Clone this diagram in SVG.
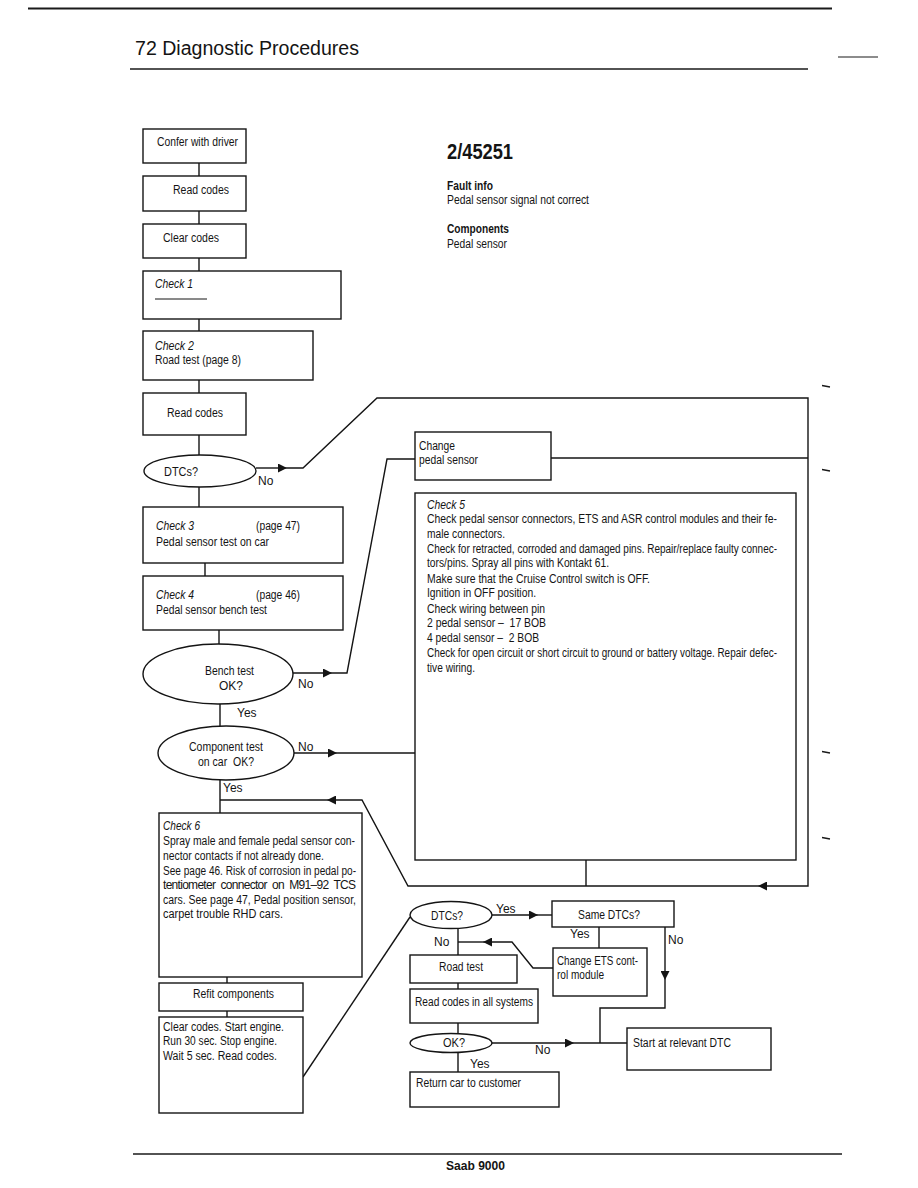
<svg xmlns="http://www.w3.org/2000/svg" width="918" height="1188" viewBox="0 0 918 1188">
<style>
.b{fill:#fff;stroke:#141414;stroke-width:1.4}
.c{fill:none;stroke:#141414;stroke-width:1.4}
.r{fill:none;stroke:#1a1a1a}
text{font-family:"Liberation Sans",Arial,sans-serif;font-size:12px;fill:#141414}
.i{font-style:italic}
.h{font-weight:bold}
.t{font-size:20px}
.n{font-size:22px;font-weight:bold}
</style>
<defs>
<marker id="a" viewBox="0 0 10 10" refX="10" refY="5" markerWidth="11" markerHeight="9" markerUnits="userSpaceOnUse" orient="auto">
<path d="M0,0L10,5L0,10z" fill="#141414"/>
</marker>
</defs>
<rect width="918" height="1188" fill="#fff"/>
<g id="page">
<path class="r" d="M28 8.5H832" stroke-width="2"/>
<path class="r" d="M130 69H808" stroke-width="1.6"/>
<path class="r" d="M838 57H878" stroke-width="1.2"/>
<path class="r" d="M133 1154H842" stroke-width="1.6"/>
<path class="r" d="M822 385.5L830 387 M822 469.5L830 471 M822 751.5L830 753 M822 837.5L830 839" stroke-width="1.4"/>
<text x="135" y="55" class="t" textLength="224" lengthAdjust="spacingAndGlyphs">72 Diagnostic Procedures</text>
<text x="446" y="1170" class="h" textLength="59" lengthAdjust="spacingAndGlyphs">Saab 9000</text>
<text x="447" y="159" class="n" textLength="66" lengthAdjust="spacingAndGlyphs">2/45251</text>
<text x="447" y="190" class="h" textLength="46" lengthAdjust="spacingAndGlyphs">Fault info</text>
<text x="447" y="204" textLength="142" lengthAdjust="spacingAndGlyphs">Pedal sensor signal not correct</text>
<text x="447" y="233" class="h" textLength="62" lengthAdjust="spacingAndGlyphs">Components</text>
<text x="447" y="248" textLength="60" lengthAdjust="spacingAndGlyphs">Pedal sensor</text>
</g>
<g id="connectors">
<path class="c" d="M199 163V176 M199 211V224 M199 258V271 M199 319V331 M199 380V393 M199 435V455"/>
<path class="c" d="M256 468H287" marker-end="url(#a)"/>
<path class="c" d="M287 468H303L377 398H808V886H758" marker-end="url(#a)"/>
<path class="c" d="M758 886H408L362 800H327" marker-end="url(#a)"/>
<path class="c" d="M327 800H220"/>
<path class="c" d="M551 458H808"/>
<path class="c" d="M199 487V507 M205 563V576 M219 630V644"/>
<path class="c" d="M293 673H332" marker-end="url(#a)"/>
<path class="c" d="M332 673H347L387 459H415"/>
<path class="c" d="M220 704V726"/>
<path class="c" d="M294 753H337" marker-end="url(#a)"/>
<path class="c" d="M337 753H415"/>
<path class="c" d="M220 780V813 M227 977V983 M227 1011V1017"/>
<path class="c" d="M303 1077L410 917"/>
<path class="c" d="M586 860V886"/>
<path class="c" d="M492 915H538" marker-end="url(#a)"/>
<path class="c" d="M538 915H552"/>
<path class="c" d="M599 927V948"/>
<path class="c" d="M665 927V980" marker-end="url(#a)"/>
<path class="c" d="M665 980V1008H600V1043"/>
<path class="c" d="M553 968H533L512 942H483" marker-end="url(#a)"/>
<path class="c" d="M483 942H458"/>
<path class="c" d="M458 929V955 M458 983V989 M458 1023V1034 M458 1053V1072"/>
<path class="c" d="M492 1043H574" marker-end="url(#a)"/>
<path class="c" d="M574 1043H627"/>
<text x="258" y="485">No</text>
<text x="298" y="688">No</text>
<text x="237" y="717">Yes</text>
<text x="298" y="751">No</text>
<text x="223" y="792">Yes</text>
<text x="496" y="913">Yes</text>
<text x="570" y="938">Yes</text>
<text x="668" y="944">No</text>
<text x="434" y="946">No</text>
<text x="535" y="1054">No</text>
<text x="470" y="1068">Yes</text>
</g>
<g id="confer"><rect class="b" x="143" y="129" width="103" height="34"/><text x="157" y="146" textLength="81" lengthAdjust="spacingAndGlyphs">Confer with driver</text></g>
<g id="read1"><rect class="b" x="143" y="176" width="103" height="35"/><text x="173" y="194" textLength="56" lengthAdjust="spacingAndGlyphs">Read codes</text></g>
<g id="clear1"><rect class="b" x="143" y="224" width="103" height="34"/><text x="163" y="242" textLength="56" lengthAdjust="spacingAndGlyphs">Clear codes</text></g>
<g id="check1"><rect class="b" x="143" y="271" width="198" height="48"/><text class="i" x="155" y="288" textLength="38" lengthAdjust="spacingAndGlyphs">Check 1</text><path d="M155 299H207" stroke="#141414" stroke-width="1"/></g>
<g id="check2"><rect class="b" x="143" y="331" width="170" height="49"/><text class="i" x="155" y="350" textLength="39" lengthAdjust="spacingAndGlyphs">Check 2</text><text x="155" y="364" textLength="86" lengthAdjust="spacingAndGlyphs">Road test (page 8)</text></g>
<g id="read2"><rect class="b" x="143" y="393" width="103" height="42"/><text x="167" y="417" textLength="56" lengthAdjust="spacingAndGlyphs">Read codes</text></g>
<g id="dtcs1"><ellipse class="b" cx="200" cy="471" rx="56" ry="16"/><text x="164" y="476" textLength="34" lengthAdjust="spacingAndGlyphs">DTCs?</text></g>
<g id="check3"><rect class="b" x="143" y="507" width="200" height="56"/><text class="i" x="156" y="530" textLength="38" lengthAdjust="spacingAndGlyphs">Check 3</text><text x="256" y="530" textLength="44" lengthAdjust="spacingAndGlyphs">(page 47)</text><text x="156" y="546" textLength="113" lengthAdjust="spacingAndGlyphs">Pedal sensor test on car</text></g>
<g id="check4"><rect class="b" x="143" y="576" width="200" height="54"/><text class="i" x="156" y="599" textLength="38" lengthAdjust="spacingAndGlyphs">Check 4</text><text x="256" y="599" textLength="44" lengthAdjust="spacingAndGlyphs">(page 46)</text><text x="156" y="614" textLength="111" lengthAdjust="spacingAndGlyphs">Pedal sensor bench test</text></g>
<g id="bench"><ellipse class="b" cx="218" cy="674" rx="75" ry="30"/><text x="205" y="675" textLength="49" lengthAdjust="spacingAndGlyphs">Bench test</text><text x="219" y="690" textLength="24" lengthAdjust="spacingAndGlyphs">OK?</text></g>
<g id="component"><ellipse class="b" cx="226" cy="753" rx="68" ry="27"/><text x="189" y="751" textLength="74" lengthAdjust="spacingAndGlyphs">Component test</text><text x="198" y="766" textLength="56" lengthAdjust="spacingAndGlyphs" xml:space="preserve">on car  OK?</text></g>
<g id="check6"><rect class="b" x="159" y="813" width="203" height="164"/>
<text class="i" x="163" y="830" textLength="37" lengthAdjust="spacingAndGlyphs">Check 6</text>
<text x="163" y="845" textLength="192" lengthAdjust="spacingAndGlyphs">Spray male and female pedal sensor con-</text>
<text x="163" y="860" textLength="161" lengthAdjust="spacingAndGlyphs">nector contacts if not already done.</text>
<text x="163" y="875" textLength="193" lengthAdjust="spacingAndGlyphs">See page 46. Risk of corrosion in pedal po-</text>
<text x="163" y="889" textLength="193" lengthAdjust="spacing" xml:space="preserve">tentiometer  connector  on  M91–92  TCS</text>
<text x="163" y="904" textLength="193" lengthAdjust="spacingAndGlyphs">cars. See page 47, Pedal position sensor,</text>
<text x="163" y="918" textLength="120" lengthAdjust="spacingAndGlyphs">carpet trouble RHD cars.</text>
</g>
<g id="refit"><rect class="b" x="159" y="983" width="144" height="28"/><text x="193" y="998" textLength="81" lengthAdjust="spacingAndGlyphs">Refit components</text></g>
<g id="clearstart"><rect class="b" x="159" y="1017" width="144" height="96"/>
<text x="163" y="1031" textLength="121" lengthAdjust="spacingAndGlyphs">Clear codes. Start engine.</text>
<text x="163" y="1045" textLength="114" lengthAdjust="spacingAndGlyphs">Run 30 sec. Stop engine.</text>
<text x="163" y="1060" textLength="114" lengthAdjust="spacingAndGlyphs">Wait 5 sec. Read codes.</text>
</g>
<g id="changesensor"><rect class="b" x="415" y="432" width="136" height="48"/><text x="419" y="450" textLength="36" lengthAdjust="spacingAndGlyphs">Change</text><text x="419" y="464" textLength="59" lengthAdjust="spacingAndGlyphs">pedal sensor</text></g>
<g id="check5"><rect class="b" x="415" y="493" width="381" height="367"/>
<text class="i" x="427" y="509" textLength="38" lengthAdjust="spacingAndGlyphs">Check 5</text>
<text x="427" y="523" textLength="350" lengthAdjust="spacingAndGlyphs">Check pedal sensor connectors, ETS and ASR control modules and their fe-</text>
<text x="427" y="538" textLength="78" lengthAdjust="spacingAndGlyphs">male connectors.</text>
<text x="427" y="553" textLength="350" lengthAdjust="spacingAndGlyphs">Check for retracted, corroded and damaged pins. Repair/replace faulty connec-</text>
<text x="427" y="567" textLength="182" lengthAdjust="spacingAndGlyphs">tors/pins. Spray all pins with Kontakt 61.</text>
<text x="427" y="583" textLength="223" lengthAdjust="spacingAndGlyphs">Make sure that the Cruise Control switch is OFF.</text>
<text x="427" y="597" textLength="109" lengthAdjust="spacingAndGlyphs">Ignition in OFF position.</text>
<text x="427" y="613" textLength="118" lengthAdjust="spacingAndGlyphs">Check wiring between pin</text>
<text x="427" y="627" textLength="119" lengthAdjust="spacingAndGlyphs" xml:space="preserve">2 pedal sensor –  17 BOB</text>
<text x="427" y="642" textLength="112" lengthAdjust="spacingAndGlyphs" xml:space="preserve">4 pedal sensor –  2 BOB</text>
<text x="427" y="657" textLength="350" lengthAdjust="spacingAndGlyphs">Check for open circuit or short circuit to ground or battery voltage. Repair defec-</text>
<text x="427" y="672" textLength="48" lengthAdjust="spacingAndGlyphs">tive wiring.</text>
</g>
<g id="dtcs2"><ellipse class="b" cx="451" cy="915" rx="41" ry="13.5"/><text x="431" y="920" textLength="32" lengthAdjust="spacingAndGlyphs">DTCs?</text></g>
<g id="same"><rect class="b" x="552" y="901" width="122" height="26"/><text x="578" y="919" textLength="62" lengthAdjust="spacingAndGlyphs">Same DTCs?</text></g>
<g id="changeets"><rect class="b" x="553" y="948" width="94" height="48"/><text x="557" y="965" textLength="81" lengthAdjust="spacingAndGlyphs">Change ETS cont-</text><text x="557" y="979" textLength="47" lengthAdjust="spacingAndGlyphs">rol module</text></g>
<g id="roadtest"><rect class="b" x="410" y="955" width="107" height="28"/><text x="439" y="971" textLength="44" lengthAdjust="spacingAndGlyphs">Road test</text></g>
<g id="readall"><rect class="b" x="410" y="989" width="128" height="34"/><text x="415" y="1006" textLength="118" lengthAdjust="spacingAndGlyphs">Read codes in all systems</text></g>
<g id="ok"><ellipse class="b" cx="451" cy="1043" rx="41" ry="9.5"/><text x="443" y="1047" textLength="22" lengthAdjust="spacingAndGlyphs">OK?</text></g>
<g id="return"><rect class="b" x="410" y="1072" width="149" height="35"/><text x="416" y="1087" textLength="105" lengthAdjust="spacingAndGlyphs">Return car to customer</text></g>
<g id="start"><rect class="b" x="627" y="1028" width="144" height="42"/><text x="633" y="1047" textLength="98" lengthAdjust="spacingAndGlyphs">Start at relevant DTC</text></g>
</svg>
